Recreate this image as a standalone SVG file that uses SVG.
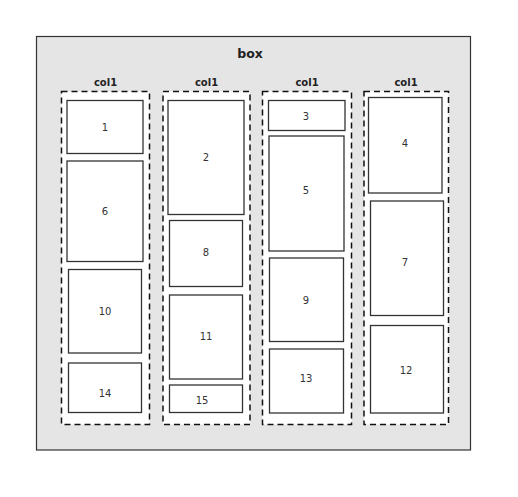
<svg xmlns="http://www.w3.org/2000/svg" width="518" height="497" viewBox="0 0 518 497">
<style>
.outer{fill:#e5e5e5;stroke:#333;stroke-width:1.2}
.col{fill:#fff;stroke:#111;stroke-width:1.5;stroke-dasharray:6,4}
.n{fill:#fff;stroke:#333;stroke-width:1.3}
.t{font-family:"DejaVu Sans",sans-serif;font-size:10px;fill:#333;text-anchor:middle;dominant-baseline:central}
.h{font-family:"DejaVu Sans",sans-serif;font-weight:bold;fill:#222;text-anchor:middle}
</style>
<rect width="518" height="497" fill="#fff"/>
<g id="box">
<rect class="outer" x="36.5" y="36.5" width="434" height="413.5"/>
<text class="h" x="250" y="57.5" font-size="12.5">box</text>
</g>
<g id="col1a">
<rect class="col" x="61.5" y="91.5" width="88" height="333"/>
<text class="h" x="105.5" y="85.7" font-size="10">col1</text>
</g>
<g id="col1b">
<rect class="col" x="163" y="91.5" width="87" height="333"/>
<text class="h" x="206.5" y="85.7" font-size="10">col1</text>
</g>
<g id="col1c">
<rect class="col" x="262.5" y="91.5" width="89" height="333"/>
<text class="h" x="307" y="85.7" font-size="10">col1</text>
</g>
<g id="col1d">
<rect class="col" x="364" y="91.5" width="84.5" height="333"/>
<text class="h" x="406" y="85.7" font-size="10">col1</text>
</g>
<g id="n1"><rect class="n" x="67" y="100.5" width="76" height="53"/><text class="t" x="105" y="127">1</text></g>
<g id="n6"><rect class="n" x="67" y="161" width="76" height="100.5"/><text class="t" x="105" y="211.5">6</text></g>
<g id="n10"><rect class="n" x="68.5" y="269.5" width="73" height="83.5"/><text class="t" x="105" y="311">10</text></g>
<g id="n14"><rect class="n" x="68.5" y="363" width="73" height="49.5"/><text class="t" x="105" y="393">14</text></g>
<g id="n2"><rect class="n" x="168" y="100.5" width="76" height="114"/><text class="t" x="206" y="157.5">2</text></g>
<g id="n8"><rect class="n" x="169.5" y="220.5" width="73" height="66"/><text class="t" x="206" y="252.5">8</text></g>
<g id="n11"><rect class="n" x="169.5" y="295" width="73" height="84"/><text class="t" x="206" y="336">11</text></g>
<g id="n15"><rect class="n" x="169.5" y="385" width="73" height="27.5"/><text class="t" x="202" y="400">15</text></g>
<g id="n3"><rect class="n" x="268.5" y="100.5" width="76.5" height="30"/><text class="t" x="306" y="116">3</text></g>
<g id="n5"><rect class="n" x="269" y="136" width="75" height="115"/><text class="t" x="306" y="190.5">5</text></g>
<g id="n9"><rect class="n" x="269.5" y="258" width="74" height="83.5"/><text class="t" x="306" y="300">9</text></g>
<g id="n13"><rect class="n" x="269.5" y="349" width="74" height="64"/><text class="t" x="306" y="378.5">13</text></g>
<g id="n4"><rect class="n" x="368.5" y="97.5" width="73.5" height="95.5"/><text class="t" x="405" y="143.5">4</text></g>
<g id="n7"><rect class="n" x="370.5" y="201" width="73" height="114.5"/><text class="t" x="405" y="262.5">7</text></g>
<g id="n12"><rect class="n" x="370.5" y="325.5" width="73" height="87.5"/><text class="t" x="406" y="370">12</text></g>
<g id="connectors"></g>
</svg>
